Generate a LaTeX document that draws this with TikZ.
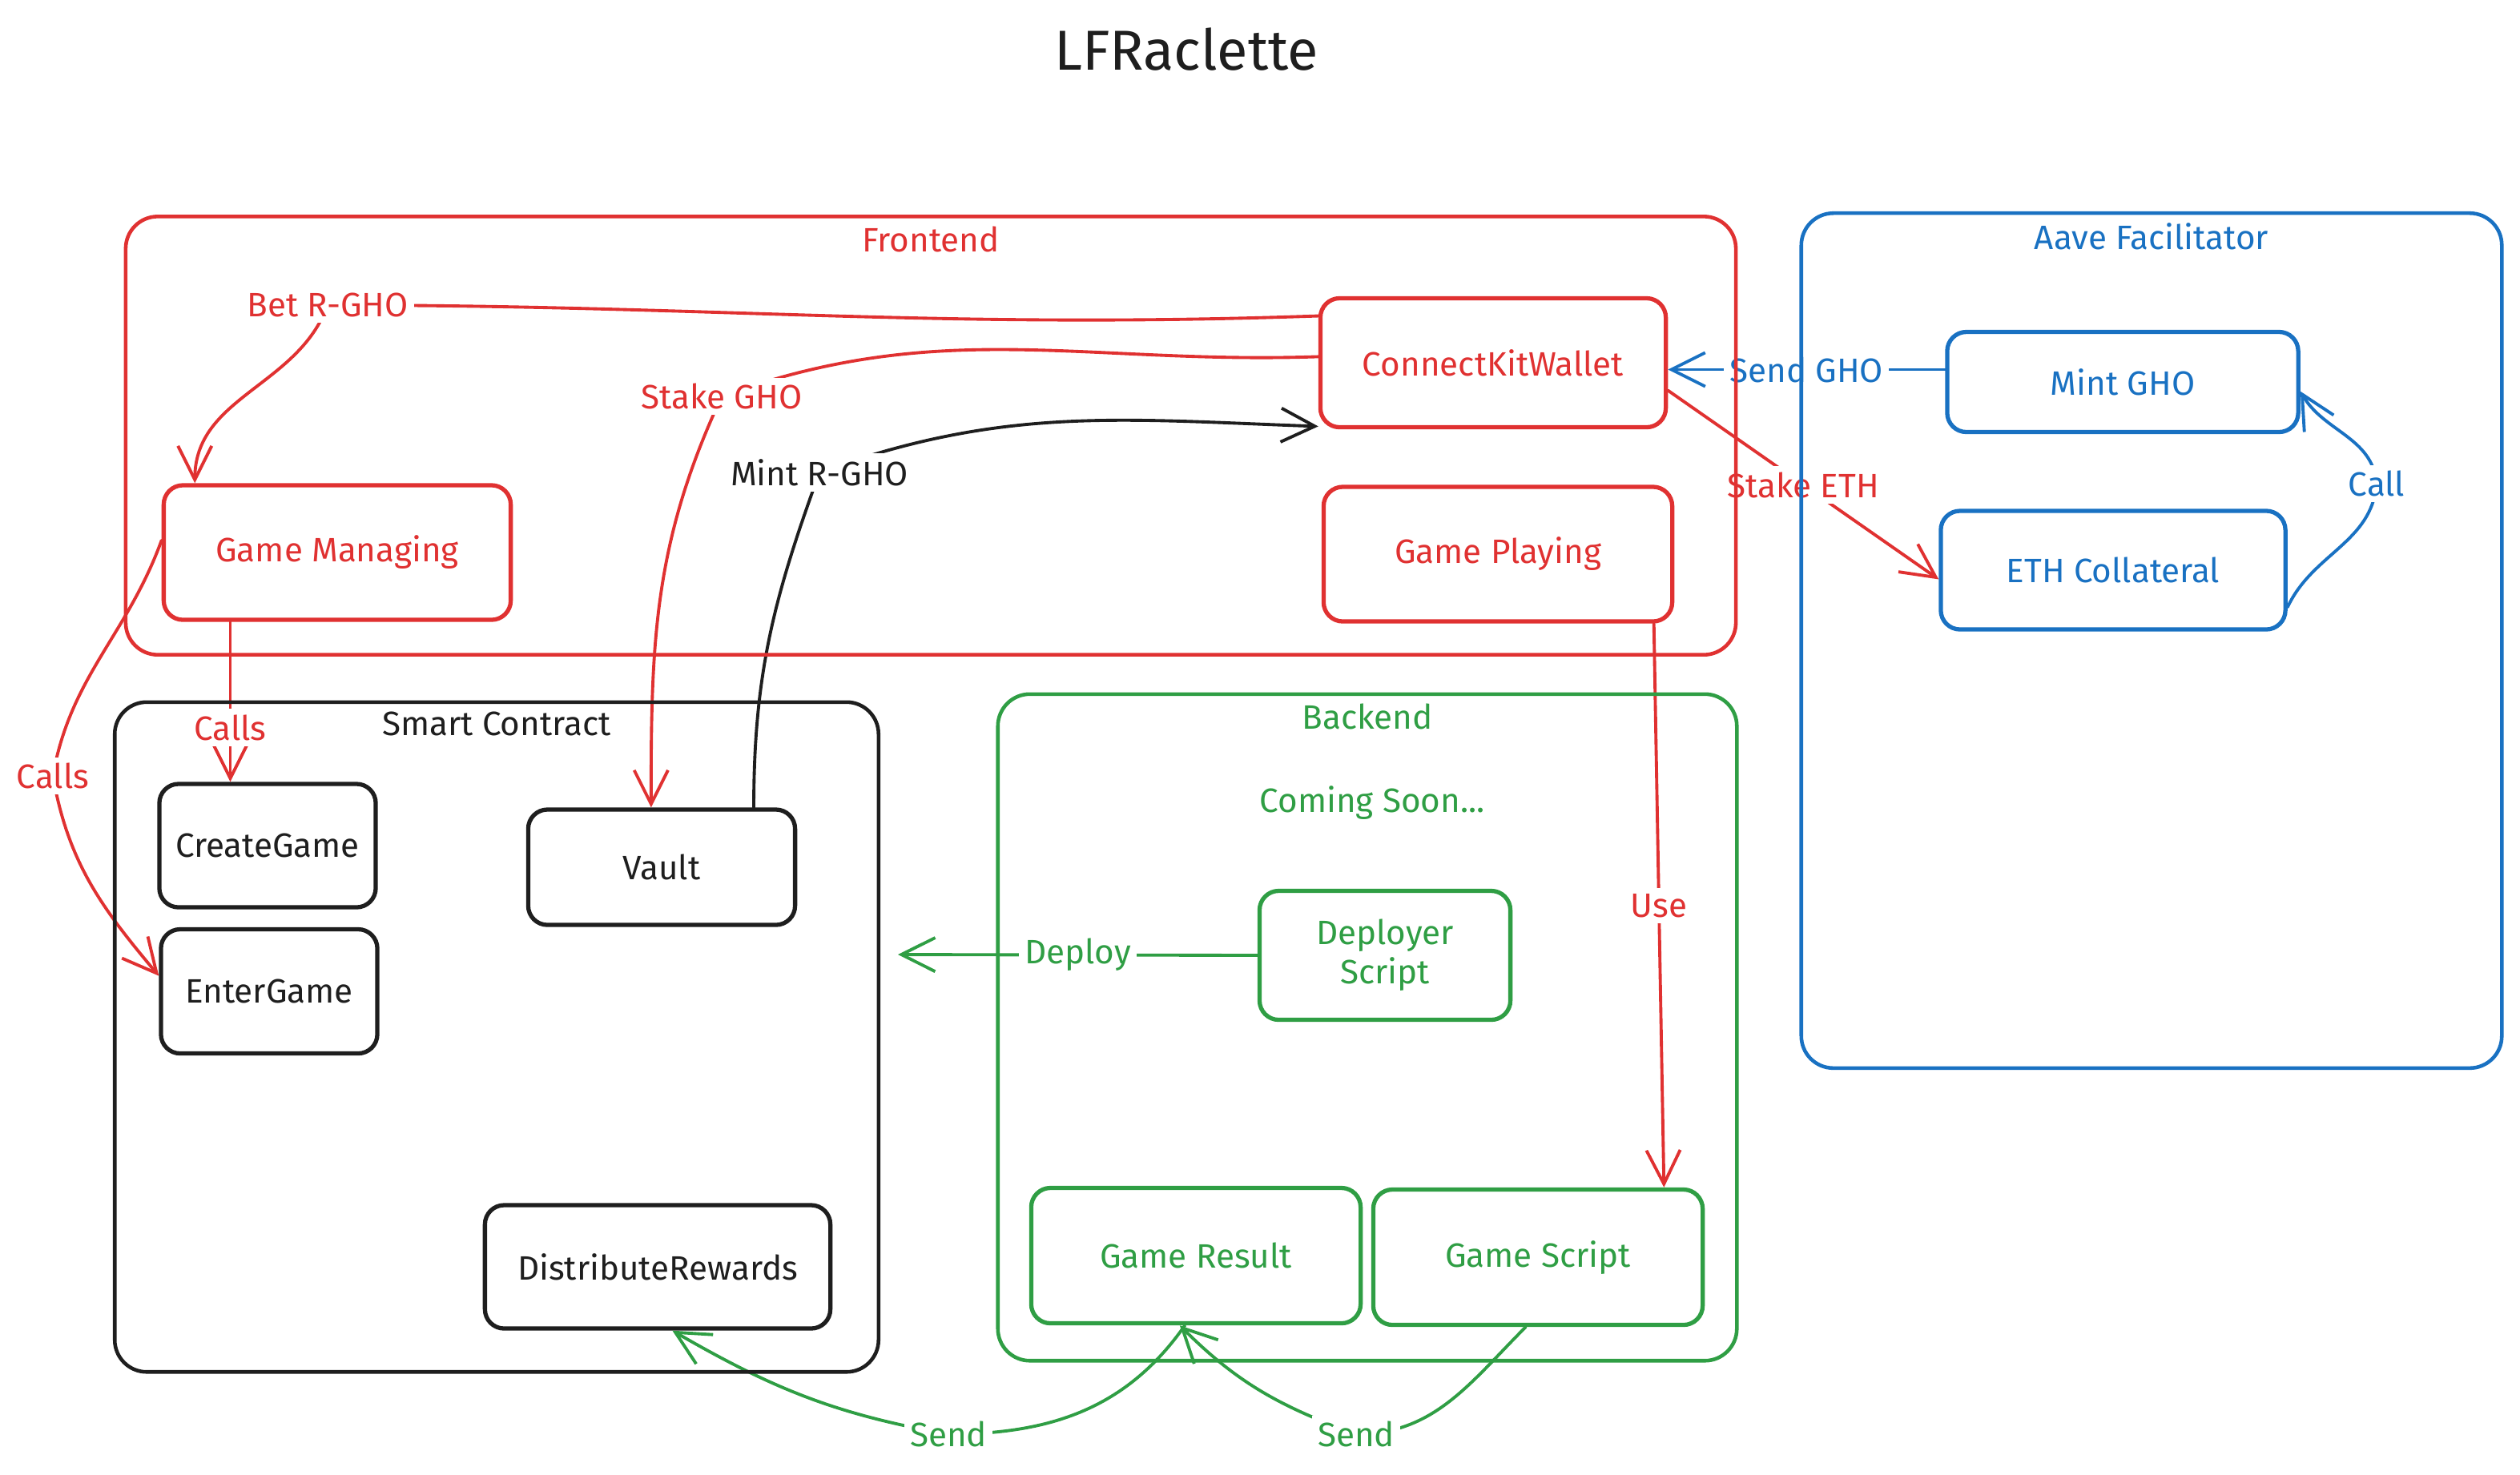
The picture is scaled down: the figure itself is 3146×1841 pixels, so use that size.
\documentclass[tikz,border=0pt]{standalone}
\usepackage{fontspec}
\setmainfont{Fira Sans}
\usepackage{tikz}
\usetikzlibrary{positioning, arrows.meta, calc}
\definecolor{cRed}  {HTML}{E03131}
\definecolor{cGreen}{HTML}{2F9E44}
\definecolor{cBlue} {HTML}{1971C2}
\definecolor{cInk}  {HTML}{1E1E1E}

\begin{document}
\begin{tikzpicture}[x=0.01cm, y=-0.01cm,
    font=\fontsize{12}{14}\selectfont,
    box/.style={draw=#1, text=#1, rounded corners=0.24cm, line width=1.5pt,
                align=center, inner sep=0pt},
    group/.style={draw=#1, rounded corners=0.4cm, line width=1.3pt},
    grouptitle/.style={text=#1, anchor=north, inner sep=4pt},
    link/.style={draw=#1, line width=1.1pt, line cap=round,
                 -{Straight Barb[length=12pt,width=12pt,line width=1.1pt]}},
    lbl/.style={text=#1, fill=white, inner sep=2pt}]
  \useasboundingbox (0,0) rectangle (3146,1841);

  % Title
  \node[font=\fontsize{20}{24}\selectfont, text=cInk] (title) at (1481,62) {LFRaclette};

  % Frontend components
  \node[box=cRed, minimum width=4.31cm, minimum height=1.61cm] (ckw) at (1864,453) {ConnectKitWallet};
  \node[box=cRed, minimum width=4.33cm, minimum height=1.68cm] (gm) at (421,690) {Game Managing};
  \node[box=cRed, minimum width=4.35cm, minimum height=1.68cm] (gp) at (1870,692) {Game Playing};

  % Aave facilitator components
  \node[box=cBlue, minimum width=4.38cm, minimum height=1.25cm] (mint) at (2650,477) {Mint GHO};
  \node[box=cBlue, minimum width=4.30cm, minimum height=1.48cm] (eth) at (2638,712) {ETH Collateral};

  % Smart contract components
  \node[box=cInk, minimum width=2.70cm, minimum height=1.54cm] (cg) at (334,1056) {CreateGame};
  \node[box=cInk, minimum width=2.70cm, minimum height=1.55cm] (eg) at (336,1238) {EnterGame};
  \node[box=cInk, minimum width=3.33cm, minimum height=1.44cm] (vault) at (826,1083) {Vault};
  \node[box=cInk, minimum width=4.31cm, minimum height=1.54cm] (dr) at (821,1582) {DistributeRewards};

  % Backend components
  \node[text=cGreen] (soon) at (1713,1003) {Coming Soon...};
  \node[box=cGreen, minimum width=3.13cm, minimum height=1.61cm] (ds) at (1729,1193) {Deployer\\Script};
  \node[box=cGreen, minimum width=4.11cm, minimum height=1.69cm] (gr) at (1493,1568) {Game Result};
  \node[box=cGreen, minimum width=4.11cm, minimum height=1.69cm] (gs) at (1920,1570) {Game Script};
  \coordinate (deployEnd) at (1121,1192);

  % Token flows
  \draw[link=cRed] (ckw.165) to[out=182,in=0] node[lbl=cRed, pos=1] (betLbl) {Bet R-GHO} (409,381)
        to[out=250,in=90] (gm.154);
  \draw[link=cRed] (ckw.178) to[out=182,in=20] node[lbl=cRed, pos=1] (stakeLbl) {Stake GHO} (901,495)
        to[out=245,in=90] (vault.100);
  \draw[link=cInk] (vault.33) to[out=90,in=250] node[lbl=cInk, pos=1] (mintLbl) {Mint R-GHO} (1023,590)
        to[out=20,in=178] (ckw.200);
  \draw[link=cBlue] (mint.176) -- node[lbl=cBlue] (sendGhoLbl) {Send GHO} (mint.176 -| ckw.east);
  \draw[link=cRed] (ckw.351) -- node[lbl=cRed] (stakeEthLbl) {Stake ETH} (eth.183);
  \draw[link=cBlue] (eth.348) to[out=65,in=265] node[lbl=cBlue, pos=1] (callLbl) {Call} (2967,604)
        to[out=95,in=-60] (mint.357);

  % Calls into the contract
  \draw[link=cRed] (gm.176) to[out=250,in=80] node[lbl=cRed, pos=1] (callsLbl) {Calls} (66,969)
        to[out=280,in=130] (eg.172);
  \draw[link=cRed] (gm.213) -- node[lbl=cRed, pos=0.66] (callsLblB) {Calls} (gm.213 |- cg.north);
  \draw[link=cRed] (gp.336) -- node[lbl=cRed] (useLbl) {Use} (gs.29);

  % Backend flows
  \draw[link=cGreen] (ds.west) -- node[lbl=cGreen] (deployLbl) {Deploy} (deployEnd);
  \draw[link=cGreen] (gr.261) to[out=235,in=0] node[lbl=cGreen, pos=1] (sendLbl) {Send} (1184,1791)
        to[out=170,in=-30] (dr.283);
  \draw[link=cGreen] (gs.260) to[out=225,in=0] node[lbl=cGreen, pos=1] (sendLblB) {Send} (1693,1791)
        to[out=160,in=-45] (gr.257);

  % Group frames
  \node[group=cRed, minimum width=20.09cm, minimum height=5.47cm] (frontend) at (1162,544) {};
  \node[grouptitle=cRed] (frontendTitle) at (frontend.north) {Frontend};
  \node[group=cBlue, minimum width=8.74cm, minimum height=10.67cm] (aave) at (2686,800) {};
  \node[grouptitle=cBlue] (aaveTitle) at (aave.north) {Aave Facilitator};
  \node[group=cInk, minimum width=9.53cm, minimum height=8.36cm] (smart) at (620,1295) {};
  \node[grouptitle=cInk] (smartTitle) at (smart.north) {Smart Contract};
  \node[group=cGreen, minimum width=9.22cm, minimum height=8.32cm] (backend) at (1707,1283) {};
  \node[grouptitle=cGreen] (backendTitle) at (backend.north) {Backend};
\end{tikzpicture}
\end{document}
